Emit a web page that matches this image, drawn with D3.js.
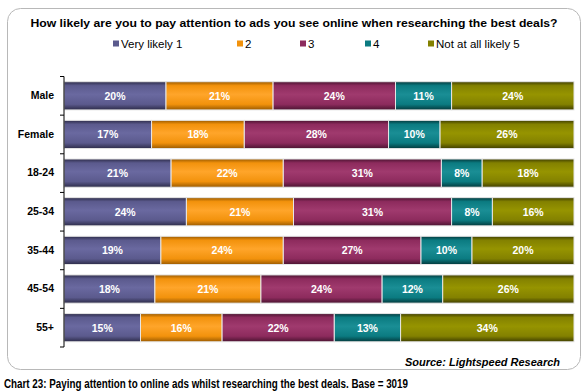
<!DOCTYPE html>
<html>
<head>
<meta charset="utf-8">
<script src="https://cdn.jsdelivr.net/npm/d3@7"></script>
<style>
  html, body { margin: 0; padding: 0; background: #fff; }
  svg { display: block; font-family: "Liberation Sans", Arial, sans-serif; }
</style>
</head>
<body>
<svg id="chart" width="585" height="392"></svg>
<script>
const categories = ["Male", "Female", "18-24", "25-34", "35-44", "45-54", "55+"];
const seriesNames = ["Very likely 1", "2", "3", "4", "Not at all likely 5"];
const v1 = [20, 17, 21, 24, 19, 18, 15];
const v2 = [21, 18, 22, 21, 24, 21, 16];
const v3 = [24, 28, 31, 31, 27, 24, 22];
const v4 = [11, 10, 8, 8, 10, 12, 13];
const v5 = [24, 26, 18, 16, 20, 26, 34];
const seriesValues = [v1, v2, v3, v4, v5];
const colors = ["#5b5a8d", "#f2920c", "#8d2b5d", "#0b7b81", "#838100"];
const darks  = ["#2c2b48", "#9a5a00", "#4a1330", "#03393c", "#3f3e00"];
const lights = ["#6a69a0", "#ffa52a", "#a03a6e", "#1a8e95", "#969400"];
const titleText = "How likely are you to pay attention to ads you see online when researching the best deals?";
const footerText = "Chart 23: Paying attention to online ads whilst researching the best deals. Base = 3019";
const sourceText = "Source: Lightspeed Research";

const svg = d3.select("#chart");
const defs = svg.append("defs");
colors.forEach((c, i) => {
  const g = defs.append("linearGradient").attr("id", "g" + i)
    .attr("x1", 0).attr("y1", 0).attr("x2", 0).attr("y2", 1);
  g.append("stop").attr("offset", "0%").attr("stop-color", darks[i]);
  g.append("stop").attr("offset", "14%").attr("stop-color", c);
  g.append("stop").attr("offset", "45%").attr("stop-color", lights[i]);
  g.append("stop").attr("offset", "80%").attr("stop-color", c);
  g.append("stop").attr("offset", "100%").attr("stop-color", darks[i]);
});

// frame
svg.append("rect").attr("x", 7.5).attr("y", 8.5).attr("width", 573).attr("height", 361)
  .attr("rx", 13).attr("ry", 13).attr("fill", "#fff").attr("stroke", "#b8b8b8").attr("stroke-width", 1);

// title
svg.append("text").attr("x", 294).attr("y", 27).attr("text-anchor", "middle")
  .attr("font-size", 11).attr("font-weight", "bold").attr("fill", "#000")
  .attr("textLength", 527).attr("lengthAdjust", "spacingAndGlyphs")
  .text(titleText);

// legend
const legendX = [113, 237, 300, 365, 428];
const leg = svg.append("g");
seriesNames.forEach((n, i) => {
  leg.append("rect").attr("x", legendX[i]).attr("y", 40.5).attr("width", 6).attr("height", 6)
    .attr("fill", colors[i]);
  leg.append("text").attr("x", legendX[i] + 8).attr("y", 48)
    .attr("font-size", 11.5).attr("fill", "#000").text(n);
});

// data stacking (100% normalised)
const rows = categories.map((c, j) => {
  const o = { cat: c };
  seriesValues.forEach((s, i) => o["s" + i] = s[j]);
  return o;
});
const keys = seriesValues.map((_, i) => "s" + i);
const stack = d3.stack().keys(keys).offset(d3.stackOffsetExpand);
const stacked = stack(rows);

const x = d3.scaleLinear().domain([0, 1]).range([64, 574]);
const y = d3.scaleBand().domain(categories).range([76.5, 347]).paddingInner(0.27).paddingOuter(0.135);

const layers = svg.append("g").selectAll("g").data(stacked).join("g")
  .attr("fill", (d, i) => "url(#g" + i + ")");
layers.selectAll("rect").data(d => d).join("rect")
  .attr("x", d => x(d[0]))
  .attr("y", d => y(d.data.cat))
  .attr("width", d => x(d[1]) - x(d[0]))
  .attr("height", y.bandwidth())
  .attr("stroke", "#e6e6e6").attr("stroke-width", 1);

// labels
stacked.forEach((layer, i) => {
  svg.append("g").selectAll("text").data(layer).join("text")
    .attr("x", d => (x(d[0]) + x(d[1])) / 2)
    .attr("y", d => y(d.data.cat) + y.bandwidth() / 2 + 4)
    .attr("text-anchor", "middle").attr("font-size", 10.5).attr("font-weight", "bold")
    .attr("fill", "#fff")
    .text((d, j) => seriesValues[i][j] + "%");
});

// y axis
const yAxis = d3.axisLeft(y).tickSize(0).tickPadding(10);
const ax = svg.append("g").attr("transform", "translate(64,0)").call(yAxis);
ax.select(".domain").attr("stroke", "#000").attr("d", "M0,76.5V347");
ax.selectAll("text").attr("font-size", 10.5).attr("font-weight", "bold").attr("fill", "#000")
  .attr("font-family", "Liberation Sans, Arial, sans-serif");
// boundary ticks
const bounds = categories.map(c => y(c) - y.step() * y.paddingInner() / 2);
bounds.push(347);
bounds[0] = 76.5;
svg.append("g").selectAll("line").data(bounds).join("line")
  .attr("x1", 60).attr("x2", 64).attr("y1", d => d).attr("y2", d => d)
  .attr("stroke", "#000");

// source
svg.append("text").attr("x", 560).attr("y", 366).attr("text-anchor", "end")
  .attr("font-size", 11).attr("font-weight", "bold").attr("font-style", "italic")
  .attr("textLength", 155).attr("lengthAdjust", "spacingAndGlyphs")
  .text(sourceText);

// footer
svg.append("text").attr("x", 4).attr("y", 388)
  .attr("font-size", 12.5).attr("font-weight", "bold")
  .attr("textLength", 404).attr("lengthAdjust", "spacingAndGlyphs")
  .text(footerText);
</script>
</body>
</html>
